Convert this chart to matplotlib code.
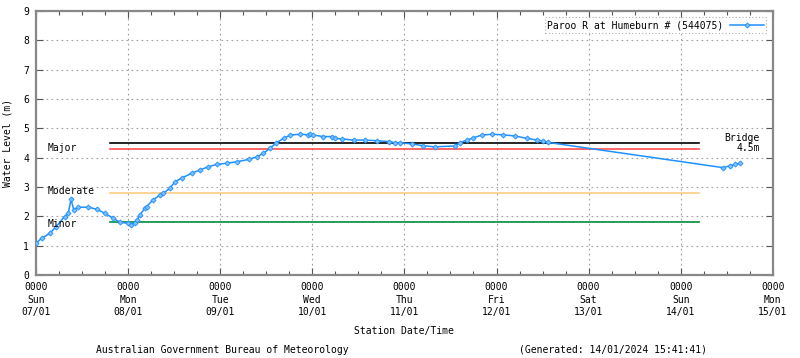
import matplotlib
matplotlib.use("Agg")
import matplotlib.pyplot as plt
from matplotlib.ticker import MultipleLocator

# Days since Sun 07/01 00:00
days = [0.00, 0.06, 0.15, 0.22, 0.31, 0.35, 0.38, 0.41, 0.46, 0.57, 0.66, 0.75,
        0.84, 0.91, 1.00, 1.03, 1.07, 1.10, 1.13, 1.18, 1.20, 1.27, 1.35, 1.38,
        1.45, 1.51, 1.58, 1.69, 1.78, 1.87, 1.96, 2.07, 2.18, 2.31, 2.40, 2.47,
        2.54, 2.61, 2.69, 2.76, 2.87, 2.95, 2.98, 3.01, 3.12, 3.21, 3.25, 3.32,
        3.45, 3.57, 3.70, 3.83, 3.90, 3.95, 4.08, 4.20, 4.33, 4.55, 4.60, 4.68,
        4.75, 4.84, 4.95, 5.07, 5.20, 5.33, 5.44, 5.51, 5.56, 7.46, 7.53, 7.59,
        7.64]
levels = [1.08, 1.25, 1.42, 1.65, 1.99, 2.10, 2.58, 2.22, 2.31, 2.31, 2.24, 2.10,
          1.93, 1.80, 1.76, 1.72, 1.78, 1.88, 2.05, 2.27, 2.33, 2.56, 2.73, 2.78,
          2.95, 3.18, 3.30, 3.47, 3.58, 3.69, 3.77, 3.81, 3.86, 3.94, 4.03, 4.15,
          4.32, 4.51, 4.66, 4.77, 4.80, 4.78, 4.80, 4.77, 4.72, 4.72, 4.66, 4.64,
          4.60, 4.60, 4.58, 4.55, 4.51, 4.51, 4.47, 4.41, 4.37, 4.40, 4.51, 4.60,
          4.68, 4.77, 4.80, 4.78, 4.74, 4.66, 4.60, 4.57, 4.52, 3.66, 3.72, 3.77,
          3.81]

tick_days = [0, 1, 2, 3, 4, 5, 6, 7, 8]
tick_dows = ["Sun", "Mon", "Tue", "Wed", "Thu", "Fri", "Sat", "Sun", "Mon"]
tick_dates = ["07/01", "08/01", "09/01", "10/01", "11/01", "12/01", "13/01", "14/01", "15/01"]

thresh_names = ["Bridge", "Major", "Moderate", "Minor"]
thresh_levels = [4.5, 4.3, 2.8, 1.8]
thresh_colors = ["#000000", "#ff4d4d", "#ffcc80", "#008f3a"]
thresh_start, thresh_end = 0.8, 7.2

series_name = "Paroo R at Humeburn # (544075)"

FONT = "DejaVu Sans Mono"
plt.rcParams["font.family"] = FONT
fs = 7

fig = plt.figure(figsize=(8, 3.58), dpi=100)
ax = fig.add_axes([0.045, 0.232, 0.921, 0.737])

ax.set_xlim(0, 8)
ax.set_ylim(0, 9)

ax.grid(True, which="major", color="#a0a0a0", linestyle=(0, (1.5, 3)), linewidth=0.8)
ax.set_axisbelow(True)

for name, lev, col in zip(thresh_names, thresh_levels, thresh_colors):
    ax.plot([thresh_start, thresh_end], [lev, lev], color=col, linewidth=1.2, zorder=2)

line, = ax.plot(days, levels, color="#1e90ff", linewidth=1.1, marker="D", markersize=2.6,
                markerfacecolor="#7fbfff", markeredgecolor="#1e90ff", markeredgewidth=0.6,
                label=series_name, zorder=3)

ax.text(0.13, 4.3 + 0.02, "Major", fontsize=fs, va="center", ha="left")
ax.text(0.13, 2.8 + 0.05, "Moderate", fontsize=fs, va="center", ha="left")
ax.text(0.13, 1.8 - 0.05, "Minor", fontsize=fs, va="center", ha="left")
ax.text(7.86, 4.68, "Bridge", fontsize=fs, va="center", ha="right")
ax.text(7.86, 4.32, "4.5m", fontsize=fs, va="center", ha="right")

ax.set_xticks(tick_days)
ax.set_xticklabels([f"0000\n{d}\n{t}" for d, t in zip(tick_dows, tick_dates)],
                   fontsize=fs, linespacing=1.35)
ax.xaxis.set_minor_locator(MultipleLocator(0.25))
ax.set_yticks(range(0, 10))
ax.set_yticklabels([str(i) for i in range(0, 10)], fontsize=fs)

ax.tick_params(axis="both", which="both", direction="in", top=True, right=True)
ax.tick_params(axis="both", which="major", length=5, width=0.8, color="#555555", pad=5)
ax.tick_params(axis="x", which="minor", length=3, width=0.8, color="#555555")

for s in ax.spines.values():
    s.set_color("#888888")
    s.set_linewidth(1.6)

ax.set_ylabel("Water Level (m)", fontsize=fs, labelpad=8)
ax.set_xlabel("Station Date/Time", fontsize=fs, labelpad=6)

leg = ax.legend(loc="upper right", fontsize=fs, frameon=True, fancybox=False,
                handlelength=3.5, borderpad=0.3, handletextpad=0.6,
                bbox_to_anchor=(0.998, 0.995), markerfirst=False)
leg.get_frame().set_edgecolor("#999999")
leg.get_frame().set_linestyle((0, (1, 2)))
leg.get_frame().set_linewidth(0.8)

fig.text(222 / 800, 1 - 350 / 358, "Australian Government Bureau of Meteorology",
         fontsize=fs, ha="center", va="center")
fig.text(613 / 800, 1 - 350 / 358, "(Generated: 14/01/2024 15:41:41)",
         fontsize=fs, ha="center", va="center")

fig.savefig("out.png", dpi=100)
